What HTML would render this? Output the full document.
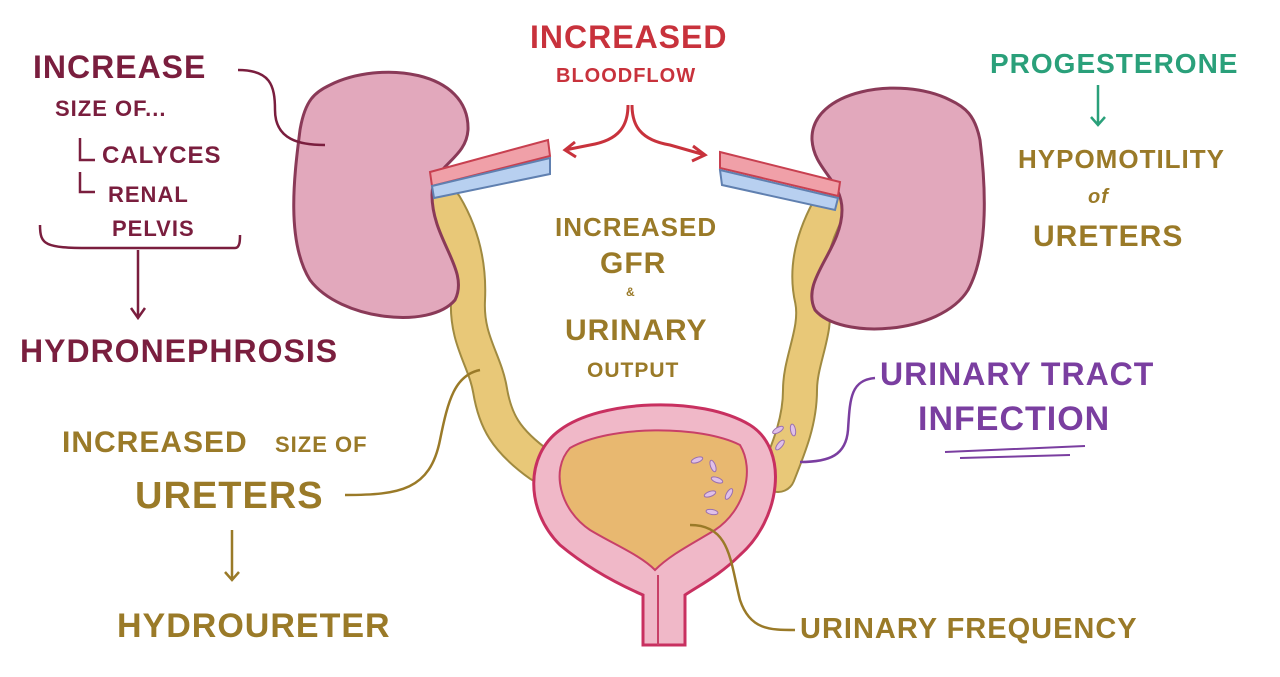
<!DOCTYPE html>
<html><head><meta charset="utf-8"><style>
html,body{margin:0;padding:0;background:#fff;}
svg{display:block}
text{font-family:"Liberation Sans",sans-serif;font-weight:bold;letter-spacing:1px}
</style></head><body>
<svg width="1280" height="677" viewBox="0 0 1280 677" xmlns="http://www.w3.org/2000/svg">
<rect width="1280" height="677" fill="#fff"/>
<!-- ureters -->
<g fill="none" stroke-linecap="round">
<path d="M445,205 C460,230 470,260 468,300 C466,340 485,360 490,390 C495,420 505,440 540,465" stroke="#a08a40" stroke-width="36"/>
<path d="M445,205 C460,230 470,260 468,300 C466,340 485,360 490,390 C495,420 505,440 540,465" stroke="#e8c878" stroke-width="32"/>
<path d="M828,210 C812,240 805,270 812,300 C818,330 800,360 800,390 C800,420 790,445 778,475" stroke="#a08a40" stroke-width="36"/>
<path d="M828,210 C812,240 805,270 812,300 C818,330 800,360 800,390 C800,420 790,445 778,475" stroke="#e8c878" stroke-width="32"/>
</g>
<!-- kidneys -->
<path d="M330,85 C380,60 470,70 468,130 C466,160 432,165 432,195 C432,240 470,270 455,300 C430,330 340,320 310,280 C285,240 295,170 300,130 C305,100 315,92 330,85 Z" fill="#e2a8bc" stroke="#8a3a58" stroke-width="3"/>
<path d="M950,100 C900,75 810,90 812,140 C814,170 842,180 842,210 C842,250 800,280 815,310 C840,340 940,335 968,290 C990,250 985,180 980,140 C975,115 965,107 950,100 Z" fill="#e2a8bc" stroke="#8a3a58" stroke-width="3"/>
<!-- vessels -->
<path d="M430,172 L548,140 L550,156 L432,186 Z" fill="#f0a0a8" stroke="#c84050" stroke-width="2"/>
<path d="M432,186 L550,158 L550,174 L434,198 Z" fill="#b8d0f0" stroke="#6080b0" stroke-width="2"/>
<path d="M720,152 L840,182 L838,196 L720,168 Z" fill="#f0a0a8" stroke="#c84050" stroke-width="2"/>
<path d="M720,170 L838,198 L835,210 L722,185 Z" fill="#b8d0f0" stroke="#6080b0" stroke-width="2"/>
<!-- bladder -->
<path d="M560,430 C600,400 700,395 750,425 C790,450 780,520 740,555 C720,575 700,585 685,595 L685,645 L643,645 L643,595 C620,585 590,570 560,545 C525,510 525,455 560,430 Z" fill="#f0b8c8" stroke="#c83060" stroke-width="3"/>
<path d="M570,448 C610,425 700,425 740,445 C755,470 745,510 715,530 C690,545 670,555 655,570 C640,555 615,545 590,530 C560,510 550,470 570,448 Z" fill="#e8b870" stroke="#c84068" stroke-width="2"/>
<line x1="658" y1="575" x2="658" y2="645" stroke="#c84068" stroke-width="2"/>
<g fill="#e0c0e8" stroke="#9a70b0" stroke-width="1">
<ellipse cx="697" cy="460" rx="6" ry="2.5" transform="rotate(-20 697 460)"/>
<ellipse cx="713" cy="466" rx="6" ry="2.5" transform="rotate(70 713 466)"/>
<ellipse cx="717" cy="480" rx="6" ry="2.5" transform="rotate(20 717 480)"/>
<ellipse cx="710" cy="494" rx="6" ry="2.5" transform="rotate(-20 710 494)"/>
<ellipse cx="729" cy="494" rx="6" ry="2.5" transform="rotate(-60 729 494)"/>
<ellipse cx="712" cy="512" rx="6" ry="2.5" transform="rotate(10 712 512)"/>
<ellipse cx="778" cy="430" rx="6" ry="2.5" transform="rotate(-30 778 430)"/>
<ellipse cx="793" cy="430" rx="6" ry="2.5" transform="rotate(80 793 430)"/>
<ellipse cx="780" cy="445" rx="6" ry="2.5" transform="rotate(-50 780 445)"/>
</g>
<!-- connector lines -->
<g fill="none" stroke-width="2.5">
<path d="M238,70 C270,70 275,85 275,110 C275,140 300,145 325,145" stroke="#7a1e3e"/>
<path d="M40,225 C40,245 45,248 90,248 L235,248 C240,248 240,240 240,235" stroke="#7a1e3e"/>
<path d="M138,250 L138,318 M131,308 L138,318 L145,308" stroke="#7a1e3e"/>
<path d="M628,105 C628,125 620,140 590,145 L565,150 M575,142 L565,150 L576,157" stroke="#c8323c" stroke-width="3"/>
<path d="M632,105 C632,125 640,140 670,145 L705,155 M693,146 L705,155 L692,161" stroke="#c8323c" stroke-width="3"/>
<path d="M1098,85 L1098,125 M1091,117 L1098,125 L1105,117" stroke="#2aa07a"/>
<path d="M345,495 C400,495 430,490 440,440 C448,400 455,375 480,370" stroke="#9a7a28"/>
<path d="M232,530 L232,580 M225,572 L232,580 L239,572" stroke="#9a7a28"/>
<path d="M690,525 C730,525 730,560 740,600 C750,630 770,630 795,630" stroke="#9a7a28"/>
<path d="M875,378 C850,380 850,400 848,430 C846,455 830,462 800,462" stroke="#7a3ea0"/>
<path d="M945,452 L1085,446 M960,458 L1070,455" stroke="#7a3ea0" stroke-width="2"/>
</g>
<!-- text -->
<g fill="#7a1e3e">
<text x="33" y="78" font-size="32">INCREASE</text>
<text x="55" y="116" font-size="22">SIZE OF...</text>
<path d="M80,138 L80,160 L95,160 M80,172 L80,192 L95,192" stroke="#7a1e3e" stroke-width="2.5" fill="none"/>
<text x="102" y="163" font-size="24">CALYCES</text>
<text x="108" y="202" font-size="22">RENAL</text>
<text x="112" y="236" font-size="22">PELVIS</text>
<text x="20" y="362" font-size="32">HYDRONEPHROSIS</text>
</g>
<text x="530" y="48" font-size="32" fill="#c8323c">INCREASED</text>
<text x="556" y="82" font-size="20" fill="#c8323c">BLOODFLOW</text>
<text x="990" y="73" font-size="28" fill="#2aa07a">PROGESTERONE</text>
<g fill="#9a7a28">
<text x="1018" y="168" font-size="26">HYPOMOTILITY</text>
<text x="1088" y="203" font-size="20" font-style="italic" font-weight="normal">of</text>
<text x="1033" y="246" font-size="30">URETERS</text>
<text x="555" y="236" font-size="26">INCREASED</text>
<text x="600" y="273" font-size="30">GFR</text>
<text x="626" y="296" font-size="12">&amp;</text>
<text x="565" y="340" font-size="30">URINARY</text>
<text x="587" y="377" font-size="21">OUTPUT</text>
<text x="62" y="452" font-size="30">INCREASED</text>
<text x="275" y="452" font-size="22">SIZE OF</text>
<text x="135" y="508" font-size="38">URETERS</text>
<text x="117" y="637" font-size="34">HYDROURETER</text>
<text x="800" y="638" font-size="29">URINARY FREQUENCY</text>
</g>
<text x="880" y="385" font-size="32" fill="#7a3ea0">URINARY TRACT</text>
<text x="918" y="430" font-size="34" fill="#7a3ea0">INFECTION</text>
</svg>
</body></html>
